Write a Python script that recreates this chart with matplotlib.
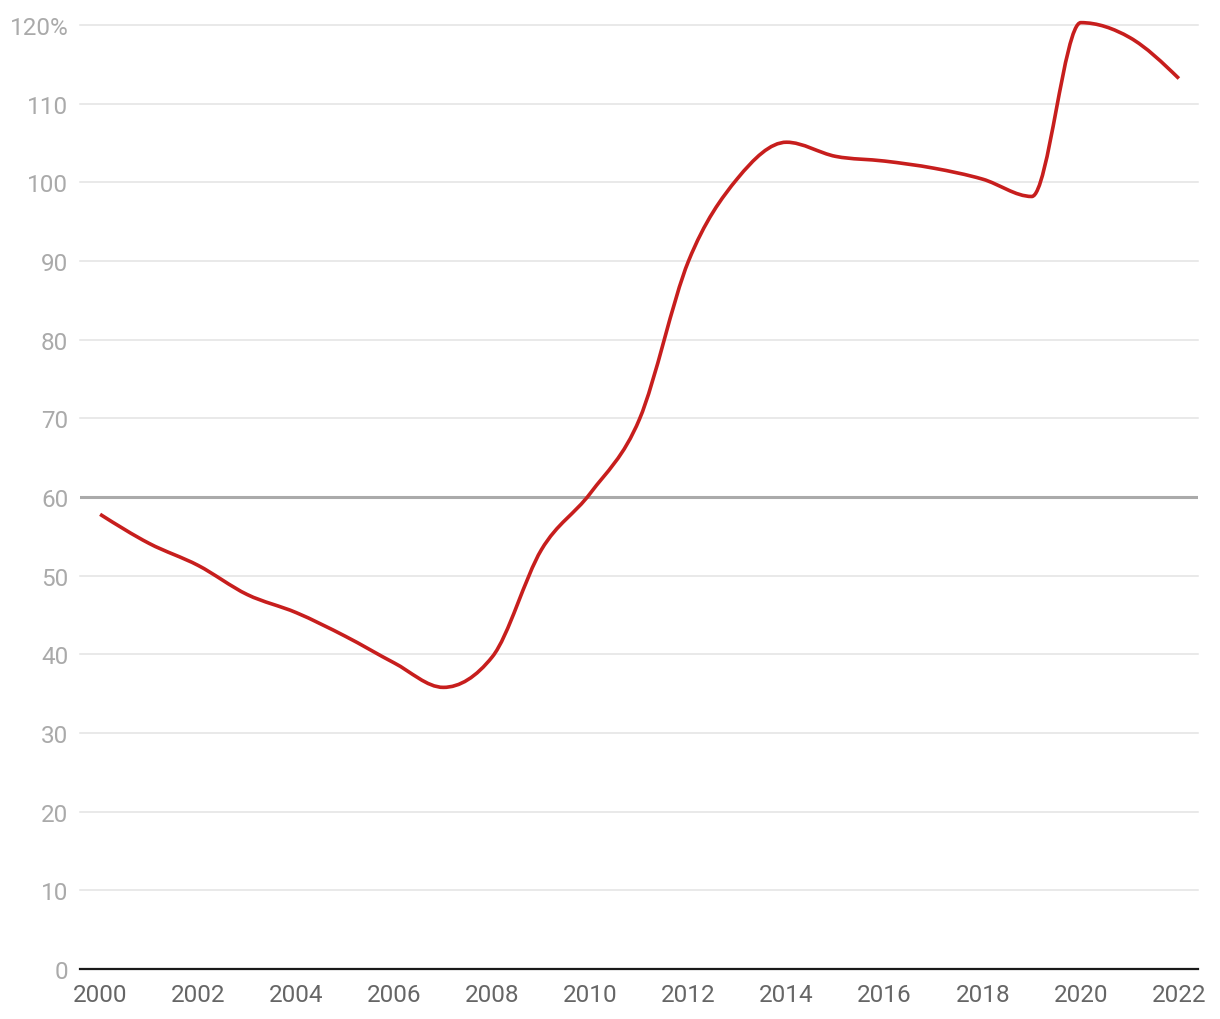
import numpy as np
import matplotlib
matplotlib.use("Agg")
import matplotlib.pyplot as plt
from matplotlib.path import Path
from matplotlib.patches import PathPatch

plt.rcParams["font.family"] = ["Roboto", "DejaVu Sans"]

years = list(range(2000, 2023))
debt = [57.8, 54.1, 51.3, 47.6, 45.3, 42.3, 38.9, 35.8, 39.7, 53.3, 60.5, 69.9,
        90.0, 100.5, 105.1, 103.3, 102.7, 101.8, 100.4, 98.2, 120.3, 118.4, 113.2]
y_ticks = [0, 10, 20, 30, 40, 50, 60, 70, 80, 90, 100, 110, 120]
y_labels = ["0", "10", "20", "30", "40", "50", "60", "70", "80", "90", "100", "110", "120%"]
x_ticks = list(range(2000, 2023, 2))
ref_level = 60


def monotone_path(xs, ys):
    # d3 curveMonotoneX as cubic bezier path
    xs = np.asarray(xs, float); ys = np.asarray(ys, float)
    n = len(xs)
    h = np.diff(xs); s = np.diff(ys) / h
    t = np.zeros(n)
    for i in range(1, n - 1):
        p = (s[i-1] * h[i] + s[i] * h[i-1]) / (h[i-1] + h[i])
        t[i] = (np.sign(s[i-1]) + np.sign(s[i])) * min(abs(s[i-1]), abs(s[i]), 0.5 * abs(p))
    t[0] = (3 * s[0] - t[1]) / 2
    t[-1] = (3 * s[-1] - t[-2]) / 2
    verts = [(xs[0], ys[0])]; codes = [Path.MOVETO]
    for i in range(n - 1):
        dx = (xs[i+1] - xs[i]) / 3
        verts += [(xs[i] + dx, ys[i] + dx * t[i]),
                  (xs[i+1] - dx, ys[i+1] - dx * t[i+1]),
                  (xs[i+1], ys[i+1])]
        codes += [Path.CURVE4] * 3
    return Path(verts, codes)


fig = plt.figure(figsize=(12.2, 10.2), dpi=100)
ax = fig.add_axes([80 / 1220, 50 / 1020, 1118 / 1220, 944 / 1020])
ax.set_xlim(1999.59, 2022.39)
ax.set_ylim(0, 120)

for v in y_ticks[1:]:
    if v == ref_level:
        continue
    ax.axhline(v, color="#e3e3e3", lw=1.1, zorder=1, clip_on=False)
ax.axhline(ref_level, color="#aaaaaa", lw=2.2, zorder=2)
ax.axhline(0, color="#1a1a1a", lw=1.6, zorder=3, clip_on=False)

ax.add_patch(PathPatch(monotone_path(years, debt), fill=False, edgecolor="#c71e1d",
                       lw=2.6, zorder=4, clip_on=False, capstyle="butt", joinstyle="round"))

ax.set_yticks(y_ticks)
ax.set_yticklabels(y_labels)
ax.set_xticks(x_ticks)
ax.set_xticklabels([str(x) for x in x_ticks])
ax.tick_params(axis="y", length=0, pad=8.5, labelsize=17.5, labelcolor="#aaaaaa")
ax.tick_params(axis="x", length=0, pad=10, labelsize=17.5, labelcolor="#666666")
for sp in ax.spines.values():
    sp.set_visible(False)

fig.savefig("out.png", dpi=100)
